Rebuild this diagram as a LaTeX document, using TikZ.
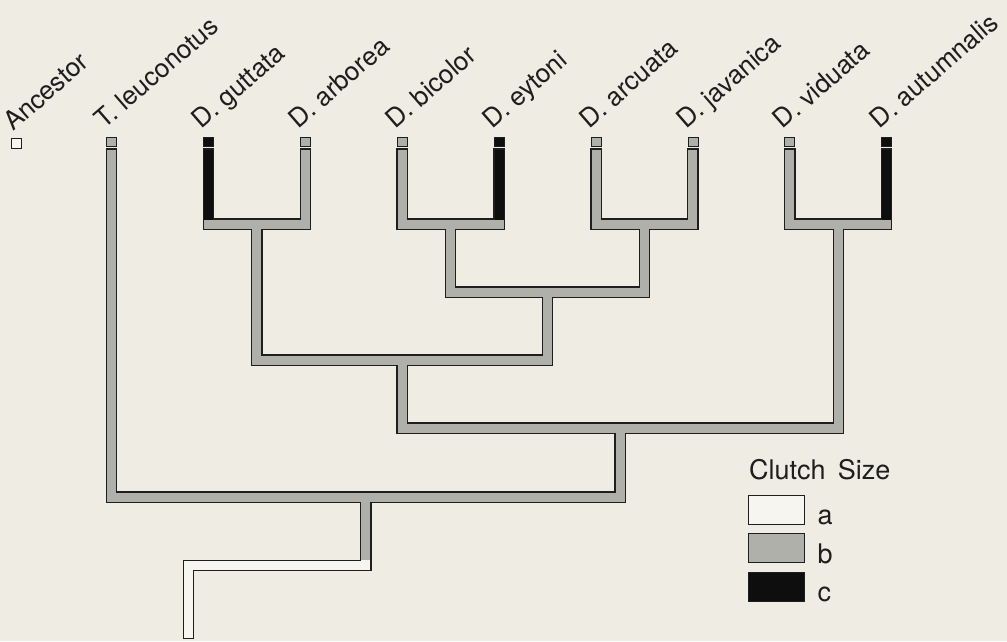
\documentclass[tikz,border=0pt]{standalone}
\usepackage{fontspec}
\setmainfont{TeX Gyre Heros}
\usetikzlibrary{calc}
\definecolor{bgcream}{RGB}{238,236,227}
\definecolor{clutchA}{RGB}{246,245,239}
\definecolor{clutchB}{RGB}{176,176,171}
\definecolor{clutchC}{RGB}{14,14,14}
\definecolor{inkgray}{RGB}{30,30,30}
\tikzset{edge/.style={line width=11.5pt,draw=inkgray,line join=miter,shorten <=-1.2pt,shorten >=-1.2pt}}
\tikzset{core/.style={line width=9pt,line join=miter}}
\tikzset{tipsq/.style={draw=inkgray,line width=0.8pt,minimum width=10pt,minimum height=9pt,inner sep=0pt}}
\tikzset{taxon/.style={anchor=base west,inner sep=0pt,rotate=41,text=inkgray,font=\fontsize{26}{26}\selectfont}}
\tikzset{keybox/.style={draw=inkgray,line width=1pt,minimum width=56pt,minimum height=29pt,inner sep=0pt}}
\tikzset{keylab/.style={anchor=base west,inner sep=0pt,text=inkgray,font=\fontsize{27}{27}\selectfont}}

\begin{document}
\begin{tikzpicture}[x=1pt,y=-1pt]
\fill[bgcream] (0,0) rectangle (1007,641);
\useasboundingbox (0,0) rectangle (1007,641);

% tips and their labels
\node[tipsq,fill=clutchA,minimum height=10pt] (sanc) at (16,143) {};
\node[taxon] (lanc) at (13,132) {Ancestor};
\foreach \nm/\xx/\cl/\lab in {leu/111.5/clutchB/T. leuconotus,gut/208.4/clutchC/D. guttata,
  arb/305.3/clutchB/D. arborea,bic/402.2/clutchB/D. bicolor,eyt/499.1/clutchC/D. eytoni,
  arc/596/clutchB/D. arcuata,jav/692.9/clutchB/D. javanica,vid/789.8/clutchB/D. viduata,
  aut/886.7/clutchC/D. autumnalis}{
  \coordinate (t\nm) at (\xx,149.5);
  \node[tipsq,fill=\cl] (s\nm) at (\xx,142.3) {};
  \node[taxon] (l\nm) at (\xx-7,130) {\lab};
}

% internal nodes
\coordinate (n1) at (256.9,224);
\coordinate (n2) at (450.6,224);
\coordinate (n3) at (644.5,224);
\coordinate (n6) at (838.3,224);
\coordinate (n4) at (547.5,292);
\coordinate (n5) at (402.2,360);
\coordinate (n7) at (620.2,428);
\coordinate (n8) at (365.8,497);
\coordinate (n9) at (365.8,560);
\coordinate (n0) at (188.5,565.5);
\coordinate (root) at (188.5,638);

% branches: outlines first, then the fills
\foreach \sty in {edge,core}{
  \draw[clutchB,\sty] (tgut) |- (n1) -| (tarb);
  \draw[clutchB,\sty] (tbic) |- (n2) -| (teyt);
  \draw[clutchB,\sty] (tarc) |- (n3) -| (tjav);
  \draw[clutchB,\sty] (tvid) |- (n6) -| (taut);
  \draw[clutchB,\sty] (n2) |- (n4) -| (n3);
  \draw[clutchB,\sty] (n1) |- (n5) -| (n4);
  \draw[clutchB,\sty] (n5) |- (n7) -| (n6);
  \draw[clutchB,\sty] (tleu) |- (n8) -| (n7);
  \draw[clutchB,\sty] (n8) -- (n9);
  \draw[clutchA,\sty] (n9) |- (n0) -- (root);
}
\foreach \nm in {gut,eyt,aut}
  \draw[core,clutchC,shorten >=4.5pt] (t\nm) -- (t\nm |- n1);

% legend
\node[keylab] (ktitle) at (749,479) {Clutch\hspace{0.45em}Size};
\node[keybox,fill=clutchA] (keya) at (776,509.5) {};
\node[keybox,fill=clutchB] (keyb) at (776,548) {};
\node[keybox,fill=clutchC] (keyc) at (776,586.5) {};
\node[keylab] (kla) at ([xshift=13pt]keya.south east) {a};
\node[keylab] (klb) at ([xshift=13pt]keyb.south east) {b};
\node[keylab] (klc) at ([xshift=13pt]keyc.south east) {c};
\end{tikzpicture}
\end{document}
